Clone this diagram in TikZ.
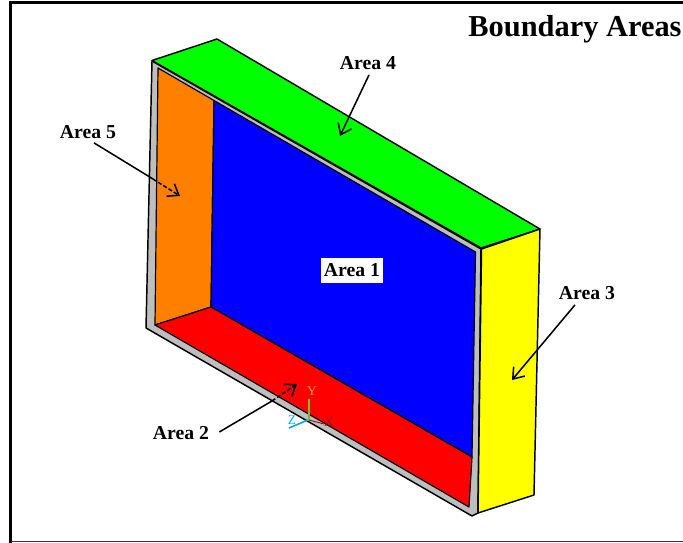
\documentclass[tikz,border=0pt]{standalone}
\usepackage{fontspec}
\setmainfont{Liberation Serif}
\usetikzlibrary{arrows.meta,calc}
\definecolor{frameg}{RGB}{190,190,190}
\definecolor{orangeF}{RGB}{255,128,0}
\definecolor{greenF}{RGB}{0,255,0}
\definecolor{yellowF}{RGB}{255,255,0}
\definecolor{triadZ}{RGB}{0,170,240}
\definecolor{triadY}{RGB}{235,160,40}
\definecolor{triadX}{RGB}{150,20,20}
\definecolor{triadL}{RGB}{120,190,30}
\tikzset{
  x=0.75pt,y=-0.75pt,
  face/.style={draw=black,line width=1.1pt,line join=round},
  inner face/.style={draw=black,line width=0.9pt,line join=round},
  arealabel/.style={font=\bfseries\fontsize{14.8}{16}\selectfont,inner sep=0pt,text=black},
  pointer/.style={draw=black,line width=1.15pt},
  pointerhead/.style={-{Straight Barb[length=7.5pt,width=11pt,line width=1.15pt]}},
  hidden/.style={dashed,dash pattern=on 3pt off 1.6pt},
  triad/.style={inner sep=0pt,font=\fontsize{10}{11}\selectfont},
}
\begin{document}
\begin{tikzpicture}
\useasboundingbox (0,0) rectangle (683,543);
% outer frame
\draw[line width=2.2pt,black] (10.5,543) -- (10.5,2.5) -- (683,2.5);
\draw[line width=1.1pt,black!80] (10.5,541.5) -- (683,541.5);
% faces
\draw[face,fill=frameg] (152,61) -- (481,249) -- (478,513) -- (472,516) -- (146,328) -- cycle;
\draw[face,fill=greenF] (152,60.5) -- (217,39) -- (540,229) -- (481,248) -- cycle;
\draw[face,fill=yellowF] (481.5,249) -- (540,229) -- (534,495) -- (478,513) -- cycle;
\draw[inner face,fill=orangeF] (158,68) -- (214,100.5) -- (211,307) -- (155,325) -- cycle;
\draw[inner face,fill=blue] (214,100.5) -- (475.5,252) -- (472,457) -- (211,307) -- cycle;
\draw[inner face,fill=red] (155,325) -- (211,307) -- (472,457) -- (469,507) -- cycle;
% triad
\draw[triadL,line width=1.4pt] (309,399) -- (309,420);
\draw[triadZ,line width=1.2pt] (308,420) -- (289,428);
\draw[triadX,line width=0.7pt] (309,420) -- (324,424);
\node[triad,text=triadY] (ty) at (312,391) {Y};
\node[triad,text=triadZ] (tz) at (292,420) {Z};
\node[triad,text=triadX] (tx) at (329,422) {X};
% title
\node[font=\bfseries\fontsize{22.8}{26}\selectfont,inner sep=0pt,anchor=base] (title) at (575,36) {Boundary Areas};
% labels
\node[arealabel,fill=white,draw=white,line width=0.4pt,minimum width=46pt,minimum height=18pt] (a1) at (352,270) {Area 1};
\node[arealabel] (a2) at (181,433) {Area 2};
\node[arealabel] (a3) at (587,293) {Area 3};
\node[arealabel] (a4) at (368,63) {Area 4};
\node[arealabel] (a5) at (88,132) {Area 5};
% arrow ends
\coordinate (t4) at (340,136);
\coordinate (t3) at (512,380);
\coordinate (m5) at (153,179);
\coordinate (t5) at (180,196);
\coordinate (m2) at (272,401);
\coordinate (t2) at (297,384);
% connectors
\draw[pointer,pointerhead] ($(a4.south)+(1,5)$) -- (t4);
\draw[pointer,pointerhead] ($(a3.south)+(-12,5)$) -- (t3);
\draw[pointer] ($(a5.south)+(6,4)$) -- (m5);
\draw[pointer,hidden,pointerhead] (m5) -- (t5);
\draw[pointer] ($(a2.east)+(10,-1)$) -- (m2);
\draw[pointer,hidden,pointerhead] (m2) -- (t2);
\end{tikzpicture}
\end{document}
